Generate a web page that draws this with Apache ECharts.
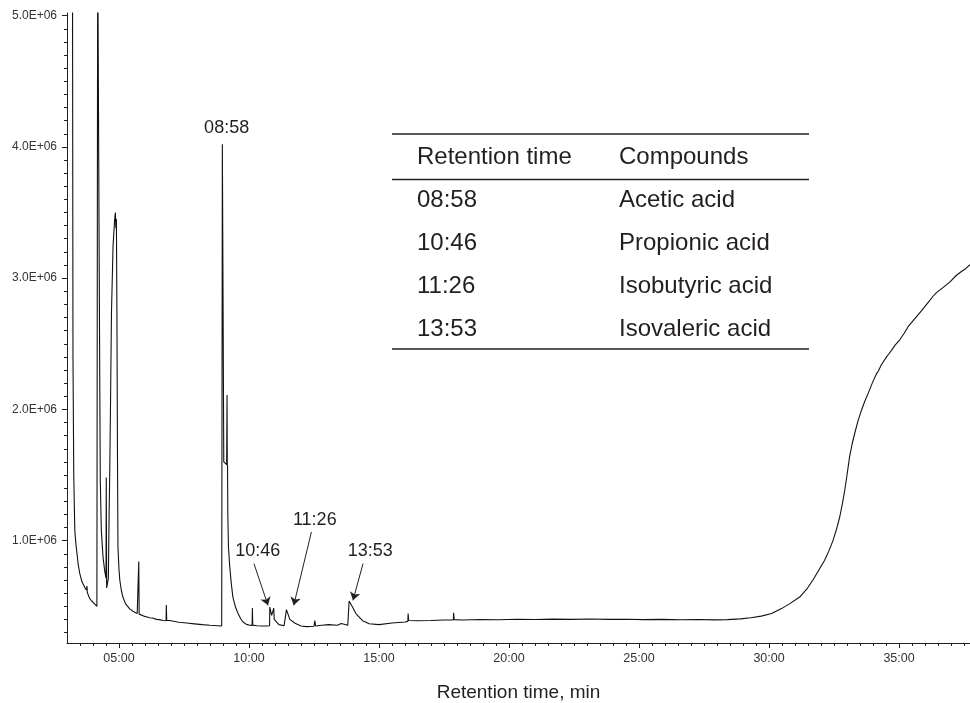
<!DOCTYPE html>
<html>
<head>
<meta charset="utf-8">
<script src="https://cdn.jsdelivr.net/npm/echarts@6/dist/echarts.min.js"></script>
<style>
  html, body { margin: 0; padding: 0; background: #fff; }
  #chart { width: 970px; height: 703px; }
</style>
</head>
<body>
<div id="chart"></div>
<script>
// retention time in minutes, detector signal in counts
const retentionMin = [
  3.00, 3.21, 3.23, 3.26, 3.30, 3.34, 3.385, 3.43, 3.49, 3.57, 3.68, 3.75, 3.77, 3.78, 3.87, 3.95, 4.05, 4.15, 4.17,
  4.18, 4.255, 4.26, 4.28, 4.32, 4.385, 4.45, 4.50, 4.51, 4.525, 4.56, 4.59, 4.62, 4.64, 4.67, 4.71, 4.77, 4.83,
  4.86, 4.88, 4.90, 4.92, 4.94, 4.96, 5.00, 5.03, 5.09, 5.15, 5.25, 5.41, 5.55, 5.70, 5.75, 5.76, 5.775, 5.85,
  5.95, 6.05, 6.10, 6.11, 6.12, 6.18, 6.28, 6.29, 6.30, 6.45, 6.55, 6.56, 6.57, 6.70, 6.81, 6.82, 6.835, 6.90,
  6.95, 7.00, 7.30, 7.60, 7.90, 8.20, 8.50, 8.80, 8.95, 8.965, 8.975, 9.03, 9.14, 9.155, 9.165, 9.175, 9.185,
  9.21, 9.26, 9.32, 9.38, 9.48, 9.58, 9.68, 9.77, 9.90, 10.03, 10.12, 10.13, 10.145, 10.30, 10.50, 10.70, 10.79,
  10.80, 10.87, 10.93, 10.95, 10.97, 11.02, 11.15, 11.35, 11.42, 11.44, 11.50, 11.57, 11.77, 12.00, 12.20, 12.50,
  12.53, 12.56, 12.80, 13.06, 13.08, 13.12, 13.40, 13.55, 13.62, 13.80, 13.85, 13.88, 13.98, 14.11, 14.37, 14.62,
  15.00, 15.50, 16.00, 16.11, 16.12, 16.14, 16.50, 17.00, 17.50, 17.86, 17.87, 17.89, 18.20, 18.90, 19.60, 20.30,
  21.00, 21.70, 22.40, 23.10, 23.80, 24.50, 25.20, 25.90, 26.60, 27.30, 27.90, 28.40, 28.90, 29.30, 29.70, 30.10,
  30.48, 30.80, 31.18, 31.45, 31.69, 31.90, 32.14, 32.30, 32.46, 32.60, 32.72, 32.82, 32.91, 33.00, 33.10, 33.20,
  33.30, 33.42, 33.55, 33.68, 33.81, 33.97, 34.13, 34.20, 34.32, 34.52, 34.60, 34.71, 34.85, 35.03, 35.20, 35.35,
  35.60, 35.86, 36.10, 36.30, 36.44, 36.70, 36.95, 37.20, 37.40, 37.55, 37.72, 37.80
];
const signal = [
  5600000, 5600000, 2400000, 1500000, 1080000, 980000, 900000, 820000, 750000, 690000, 644000, 625000, 655000, 605000, 560000, 540000, 520000, 500000, 495000,
  5600000, 5600000, 2220000, 1460000, 1080000, 875000, 770000, 715000, 1480000, 640000, 630000, 710000, 1210000, 1460000, 1970000, 2730000, 3240000, 3440000,
  3500000, 3380000, 3450000, 2730000, 1710000, 950000, 780000, 700000, 620000, 570000, 520000, 480000, 460000, 445000, 440000, 840000, 440000, 432000,
  425000, 420000, 418000, 432000, 416000, 412000, 410000, 422000, 406000, 400000, 398000, 410000, 396000, 392000, 390000, 510000, 392000, 388000,
  392000, 384000, 378000, 372000, 366000, 360000, 355000, 352000, 350000, 350000, 4020000, 1600000, 1580000, 2110000, 1590000, 1560000, 1210000,
  950000, 800000, 670000, 570000, 494000, 444000, 405000, 380000, 362000, 355000, 354000, 486000, 356000, 352000, 350000, 350000, 352000,
  494000, 430000, 470000, 486000, 400000, 385000, 360000, 352000, 350000, 474000, 440000, 400000, 370000, 350000, 345000, 348000,
  390000, 350000, 355000, 360000, 375000, 360000, 355000, 368000, 360000, 355000, 540000, 540000, 494000, 444000, 390000, 367000,
  360000, 372000, 380000, 385000, 444000, 392000, 390000, 392000, 395000, 396000, 450000, 398000, 395000, 399000, 397000, 401000,
  399000, 402000, 400000, 403000, 400000, 401000, 398000, 400000, 397000, 399000, 396000, 398000, 404000, 412000, 425000, 445000,
  482000, 520000, 570000, 630000, 700000, 770000, 850000, 920000, 1000000, 1090000, 1180000, 1280000, 1380000, 1500000, 1640000, 1740000,
  1820000, 1910000, 1990000, 2060000, 2120000, 2200000, 2270000, 2290000, 2340000, 2400000, 2420000, 2450000, 2490000, 2530000, 2580000, 2630000,
  2690000, 2750000, 2810000, 2860000, 2890000, 2930000, 2970000, 3020000, 3050000, 3070000, 3100000, 3110000
];

// axis ticks
const xMajorTicks = [5, 10, 15, 20, 25, 30, 35];
const yMajorTicks = [1000000, 2000000, 3000000, 4000000, 5000000];

// peak annotations: label text, label position, arrow start and arrow tip
const peakLabels = ['08:58', '10:46', '11:26', '13:53'];
const labelTime = [9.14, 10.34, 12.53, 14.66];
const labelSignal = [4140000, 922000, 1155000, 922000];
const arrowFrom = [null, [10.19, 825000], [12.40, 1066000], [14.385, 825000]];
const arrowTo = [null, [10.73, 507000], [11.72, 507000], [14.00, 545000]];

// table
const tableHeader = ['Retention time', 'Compounds'];
const tableTimes = ['08:58', '10:46', '11:26', '13:53'];
const tableCompounds = ['Acetic acid', 'Propionic acid', 'Isobutyric acid', 'Isovaleric acid'];

const FONT = '"Liberation Sans", Arial, Helvetica, sans-serif';
const INK = '#231f20';

const xMinorTicks = [];
for (let t = 3.5; t <= 37.5; t += 0.5) xMinorTicks.push(t);
const yMinorTicks = [];
for (let v = 300000; v <= 5000000; v += 100000) yMinorTicks.push(v);

const fmtTime = (v) => {
  const m = Math.floor(v + 1e-9);
  const s = Math.round((v - m) * 60);
  return String(m).padStart(2, '0') + ':' + String(s).padStart(2, '0');
};

const X_MIN = 3, X_MAX = 37.73, Y_MIN = 220000, Y_MAX = 5020000;

const traceData = retentionMin.map((t, i) => [t, signal[i]]);
const labelData = peakLabels.map((txt, i) => [labelTime[i], labelSignal[i], txt]);
const arrowData = [];
arrowFrom.forEach((a, i) => {
  if (a) arrowData.push([{ coord: a }, { coord: arrowTo[i] }]);
});

// table as graphic elements
const tableLeft = 392, tableRight = 809, col1 = 417, col2 = 619;
const rowY = [200, 243, 286.5, 329.5];
const graphics = [];
[134, 179.5, 349].forEach((y) => {
  graphics.push({
    type: 'line', silent: true,
    shape: { x1: tableLeft, y1: y, x2: tableRight, y2: y },
    style: { stroke: INK, lineWidth: 1.3 }
  });
});
const textEl = (x, y, s) => ({
  type: 'text', silent: true, x: x, y: y,
  style: { text: s, fill: INK, font: '24px ' + FONT, verticalAlign: 'middle' }
});
graphics.push(textEl(col1, 157, tableHeader[0]));
graphics.push(textEl(col2, 157, tableHeader[1]));
tableTimes.forEach((s, i) => {
  graphics.push(textEl(col1, rowY[i], s));
  graphics.push(textEl(col2, rowY[i], tableCompounds[i]));
});

const chart = echarts.init(document.getElementById('chart'));
chart.setOption({
  animation: false,
  backgroundColor: '#fff',
  textStyle: { fontFamily: FONT },
  grid: { left: 67, right: 0, top: 13, bottom: 60, outerBoundsMode: 'none', containLabel: false },
  xAxis: [
    {
      type: 'value', min: X_MIN, max: X_MAX, position: 'bottom',
      axisLine: { show: true, lineStyle: { color: INK, width: 1 } },
      axisTick: { show: true, length: 3, customValues: xMinorTicks, lineStyle: { color: INK } },
      axisLabel: { show: false },
      splitLine: { show: false }
    },
    {
      type: 'value', min: X_MIN, max: X_MAX, position: 'bottom',
      axisLine: { show: false },
      axisTick: { show: true, length: 5, customValues: xMajorTicks, lineStyle: { color: INK } },
      axisLabel: {
        show: true, customValues: xMajorTicks, formatter: fmtTime,
        color: '#333', fontSize: 12.5, fontFamily: FONT, margin: 9
      },
      splitLine: { show: false },
      name: 'Retention time, min', nameLocation: 'middle', nameGap: 40,
      nameTextStyle: { color: INK, fontSize: 19, fontFamily: FONT }
    }
  ],
  yAxis: [
    {
      type: 'value', min: Y_MIN, max: Y_MAX, position: 'left',
      axisLine: { show: true, lineStyle: { color: INK, width: 1 } },
      axisTick: { show: true, length: 3, customValues: yMinorTicks, lineStyle: { color: INK } },
      axisLabel: { show: false },
      splitLine: { show: false }
    },
    {
      type: 'value', min: Y_MIN, max: Y_MAX, position: 'left',
      axisLine: { show: false },
      axisTick: { show: true, length: 5, customValues: yMajorTicks, lineStyle: { color: INK } },
      axisLabel: {
        show: true, customValues: yMajorTicks, margin: 10,
        formatter: (v) => (v / 1000000).toFixed(1) + 'E+06',
        color: '#333', fontSize: 12, fontFamily: FONT
      },
      splitLine: { show: false }
    }
  ],
  series: [
    {
      type: 'line', data: traceData, xAxisIndex: 0, yAxisIndex: 0,
      showSymbol: false, clip: true, smooth: false,
      lineStyle: { color: '#111', width: 1.1 },
      emphasis: { disabled: true }
    },
    {
      type: 'scatter', data: labelData, xAxisIndex: 0, yAxisIndex: 0,
      symbolSize: 1, itemStyle: { color: '#fff', opacity: 1 },
      label: {
        show: true, position: 'inside', formatter: (p) => p.data[2],
        color: INK, fontSize: 18, fontFamily: FONT, textBorderWidth: 0, opacity: 1
      },
      emphasis: { disabled: true },
      markLine: {
        silent: true, animation: false,
        symbol: ['none', 'arrow'], symbolSize: 8,
        label: { show: false },
        lineStyle: { color: INK, width: 1, type: 'solid' },
        emphasis: { disabled: true },
        data: arrowData
      }
    }
  ],
  graphic: graphics
});
</script>
</body>
</html>
